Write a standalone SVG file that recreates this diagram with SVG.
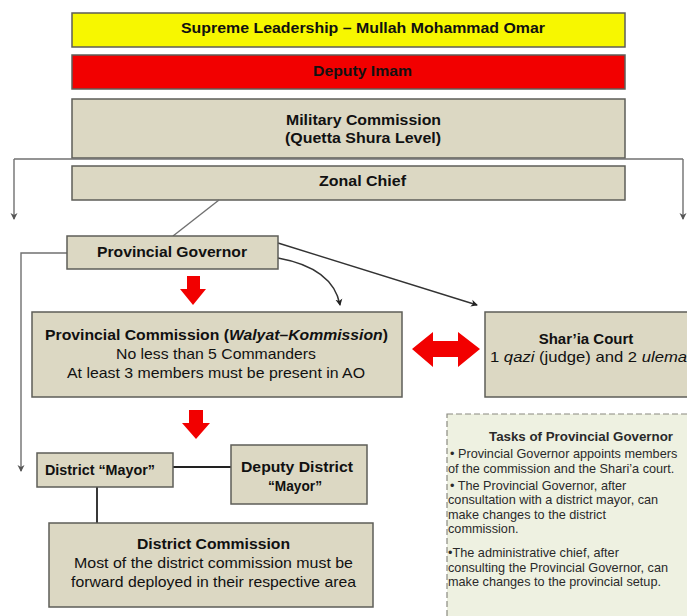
<svg xmlns="http://www.w3.org/2000/svg" width="687" height="616" viewBox="0 0 687 616">
<style>
.box{stroke:#5e5e58;stroke-width:1.5}
.tan{fill:#dcd8c3}
.t{font-family:"Liberation Sans",Arial,sans-serif;font-size:15px;fill:#111}
.b{font-weight:bold}
.s{font-family:"Liberation Sans",Arial,sans-serif;font-size:12.7px;fill:#2a2a2a}
.ln{fill:none;stroke:#707070;stroke-width:1.4}
.dk{fill:none;stroke:#333;stroke-width:1.4}
.red{fill:#f20000}
</style>
<defs>
<marker id="ah" markerWidth="8" markerHeight="8" refX="6" refY="4" orient="auto" markerUnits="userSpaceOnUse">
<path d="M0,0.5 L7,4 L0,7.5 L2,4 Z" fill="#555"/>
</marker>
<marker id="ahd" markerWidth="8" markerHeight="8" refX="6" refY="4" orient="auto" markerUnits="userSpaceOnUse">
<path d="M0,0.5 L7,4 L0,7.5 L2,4 Z" fill="#222"/>
</marker>
</defs>
<rect width="687" height="616" fill="#ffffff"/>

<g id="tasks">
<rect x="447" y="414" width="250" height="220" fill="#eef1e1" stroke="#8a8a80" stroke-width="1.2" stroke-dasharray="6 3"/>
<text class="s b" x="489" y="441" textLength="184" lengthAdjust="spacingAndGlyphs">Tasks of Provincial Governor</text>
<text class="s" x="450" y="458">• Provincial Governor appoints members</text>
<text class="s" x="448" y="473">of the commission and the Shari’a court.</text>
<text class="s" x="450" y="490">• The Provincial Governor, after</text>
<text class="s" x="448" y="504">consultation with a district mayor, can</text>
<text class="s" x="448" y="519">make changes to the district</text>
<text class="s" x="448" y="533">commission.</text>
<text class="s" x="448" y="557">•The administrative chief, after</text>
<text class="s" x="448" y="572">consulting the Provincial Governor, can</text>
<text class="s" x="448" y="586">make changes to the provincial setup.</text>
</g>

<g id="supreme">
<rect class="box" x="72" y="13" width="553" height="34" fill="#f7f700"/>
<text class="t b" x="181" y="33" textLength="364" lengthAdjust="spacingAndGlyphs">Supreme Leadership – Mullah Mohammad Omar</text>
</g>
<g id="deputy-imam">
<rect class="box" x="72" y="55" width="553" height="34" fill="#f20000"/>
<text class="t b" x="313" y="76" textLength="99" lengthAdjust="spacingAndGlyphs">Deputy Imam</text>
</g>
<g id="military-commission">
<rect class="box tan" x="72" y="99" width="553" height="59"/>
<text class="t b" x="286" y="125" textLength="155" lengthAdjust="spacingAndGlyphs">Military Commission</text>
<text class="t b" x="285" y="143" textLength="156" lengthAdjust="spacingAndGlyphs">(Quetta Shura Level)</text>
</g>
<g id="zonal-chief">
<rect class="box tan" x="72" y="166" width="553" height="34"/>
<text class="t b" x="319" y="186" textLength="87" lengthAdjust="spacingAndGlyphs">Zonal Chief</text>
</g>

<g id="connectors">
<line class="ln" x1="14" y1="159" x2="683" y2="159"/>
<line class="ln" x1="14" y1="159" x2="14" y2="219" marker-end="url(#ah)"/>
<line class="ln" x1="683" y1="159" x2="683" y2="219" marker-end="url(#ah)"/>
<line class="ln" x1="219" y1="200" x2="173" y2="236"/>
<polyline class="ln" points="67,253 21,253 21,471" marker-end="url(#ah)"/>
<line class="dk" x1="278" y1="243" x2="477" y2="305" marker-end="url(#ahd)"/>
<path class="dk" d="M278,258 Q333,268 340,305" marker-end="url(#ahd)"/>
<line x1="173" y1="467" x2="231" y2="467" stroke="#222" stroke-width="1.8"/>
<line x1="97" y1="487" x2="97" y2="523" stroke="#222" stroke-width="1.8"/>
<path class="red" d="M187,276 H200 V289 H206 L193,305 L180,289 H187 Z"/>
<path class="red" d="M189,410 H203 V423 H210 L196,439 L182,423 H189 Z"/>
<path class="red" d="M412,349 L433,332 V341 H458 V332 L480,349 L458,367 V357 H433 V367 Z"/>
</g>

<g id="provincial-governor">
<rect class="box tan" x="67" y="236" width="211" height="33"/>
<text class="t b" x="97" y="257" textLength="150" lengthAdjust="spacingAndGlyphs">Provincial Governor</text>
</g>
<g id="provincial-commission">
<rect class="box tan" x="32" y="312" width="370" height="85"/>
<text class="t b" x="45" y="340" textLength="343" lengthAdjust="spacingAndGlyphs">Provincial Commission (<tspan font-style="italic">Walyat–Kommission</tspan>)</text>
<text class="t" x="116" y="359" textLength="200" lengthAdjust="spacingAndGlyphs">No less than 5 Commanders</text>
<text class="t" x="67" y="378" textLength="298" lengthAdjust="spacingAndGlyphs">At least 3 members must be present in AO</text>
</g>
<g id="sharia-court">
<rect class="box tan" x="485" y="312" width="210" height="85"/>
<text class="t b" x="586" y="344" text-anchor="middle">Shar’ia Court</text>
<text class="t" x="490" y="362" textLength="197" lengthAdjust="spacingAndGlyphs">1 <tspan font-style="italic">qazi</tspan> (judge) and 2 <tspan font-style="italic">ulema</tspan></text>
</g>
<g id="district-mayor">
<rect class="box tan" x="37" y="453" width="136" height="34"/>
<text class="t b" x="45" y="475" textLength="110" lengthAdjust="spacingAndGlyphs">District “Mayor”</text>
</g>
<g id="deputy-district-mayor">
<rect class="box tan" x="231" y="445" width="136" height="59"/>
<text class="t b" x="241" y="472" textLength="112" lengthAdjust="spacingAndGlyphs">Deputy District</text>
<text class="t b" x="268" y="491" textLength="54" lengthAdjust="spacingAndGlyphs">“Mayor”</text>
</g>
<g id="district-commission">
<rect class="box tan" x="49" y="523" width="324" height="84"/>
<text class="t b" x="137" y="549" textLength="153" lengthAdjust="spacingAndGlyphs">District Commission</text>
<text class="t" x="74" y="568" textLength="279" lengthAdjust="spacingAndGlyphs">Most of the district commission must be</text>
<text class="t" x="71" y="587" textLength="285" lengthAdjust="spacingAndGlyphs">forward deployed in their respective area</text>
</g>
</svg>
